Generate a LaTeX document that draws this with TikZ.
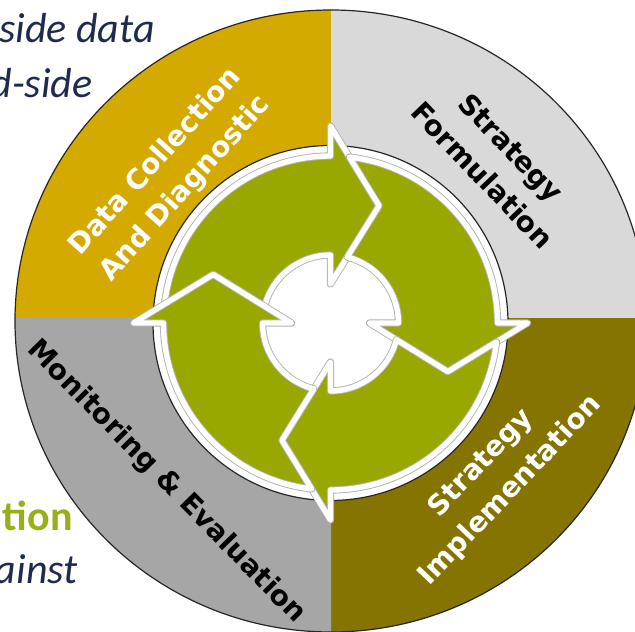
\documentclass[tikz,border=0pt]{standalone}
\usepackage{fontspec}
\usepackage{xcolor}
\usepackage{tikz}
\newfontfamily\labelfont{DejaVu Sans}
\newfontfamily\notefont{Carlito}

\definecolor{goldq}{HTML}{D4AA00}
\definecolor{lightq}{HTML}{D9D9D9}
\definecolor{oliveq}{HTML}{857400}
\definecolor{midq}{HTML}{A6A6A6}
\definecolor{arrowgreen}{HTML}{99A800}
\definecolor{notenavy}{HTML}{1F2A4E}
\definecolor{notegreen}{HTML}{9AAE1C}

\begin{document}
\begin{tikzpicture}[%
          x=0.5pt,y=0.5pt,
          rim/.style={
              draw=black!85,
              line width=0.6pt
            },cyclearrow/.style={
              fill=arrowgreen,
              draw=black!30,
              line width=0.45pt,
              double=white,
              double distance=2.7pt,
              line join=round
            },whitelabel/.style={
              text=white,
              align=center,
              font=\labelfont\bfseries\fontsize{14pt}{20pt}\selectfont
            },blacklabel/.style={
              whitelabel,
              text=black
            },note/.style={
              anchor=base east,
              inner sep=0pt,
              text=notenavy,
              font=\notefont\itshape\fontsize{21pt}{25pt}\selectfont
            }
        ]

        % 画像の範囲
        \useasboundingbox (-331,-311) rectangle (304,320);
        \clip (-331,-311) rectangle (304,320);

        % 座標の定義
        \coordinate (ring_center) at (0,-1);
        \coordinate (split) at (0,2);
        \coordinate (arrow_center) at (-0.5,-3);

        % 四分円
        \foreach \col/\sx/\sy in {goldq/-1/1, lightq/1/1, oliveq/1/-1, midq/-1/-1}{
            \begin{scope}
              \clip (split) rectangle (\sx*340,\sy*340);
              \fill[\col] (ring_center) ellipse[x radius=316, y radius=311];
            \end{scope}
          }
        \draw[rim] (ring_center) ellipse[x radius=316, y radius=311];

        % 内側の白い円
        \draw[rim, fill=white] (arrow_center) circle[radius=177.5];

        % 循環する矢印
        \foreach \turn in {0,-90,-180,-270}{
            \begin{scope}[shift={(-0.5,-3)}, rotate=\turn]
              \draw[cyclearrow] (173.5:167)
                arc[start angle=173.5, end angle=90, radius=167]
                -- (90:197) -- (67.5:127) -- (90:39) -- (90:68)
                arc[start angle=90, end angle=165.8, radius=68]
                -- (157.5:127) -- cycle;
            \end{scope}
          }

        % 各段階のラベル
        \node[whitelabel, rotate=48] (collection) at (138:216) {Data Collection\\And Diagnostic};
        \node[blacklabel, rotate=-46.3] (formulation) at (43.7:229.5) {Strategy\\Formulation};
        \node[whitelabel, rotate=46.4] (implementation) at (-43.6:228) {Strategy\\Implementation};
        \node[blacklabel, rotate=-45.5] (monitoring) at (-135.5:231) {Monitoring \& Evaluation};

        % 左側の文字の切れ端
        \node[note] (sidedata) at (-176,277) {side data};
        \node[note] (dside) at (-238,222) {d-side};
        \node[note, text=notegreen, font=\notefont\bfseries\fontsize{21pt}{25pt}\selectfont] (tion) at (-258,-210) {tion};
        \node[note] (ainst) at (-253,-263) {ainst};

      \end{tikzpicture}
\end{document}
